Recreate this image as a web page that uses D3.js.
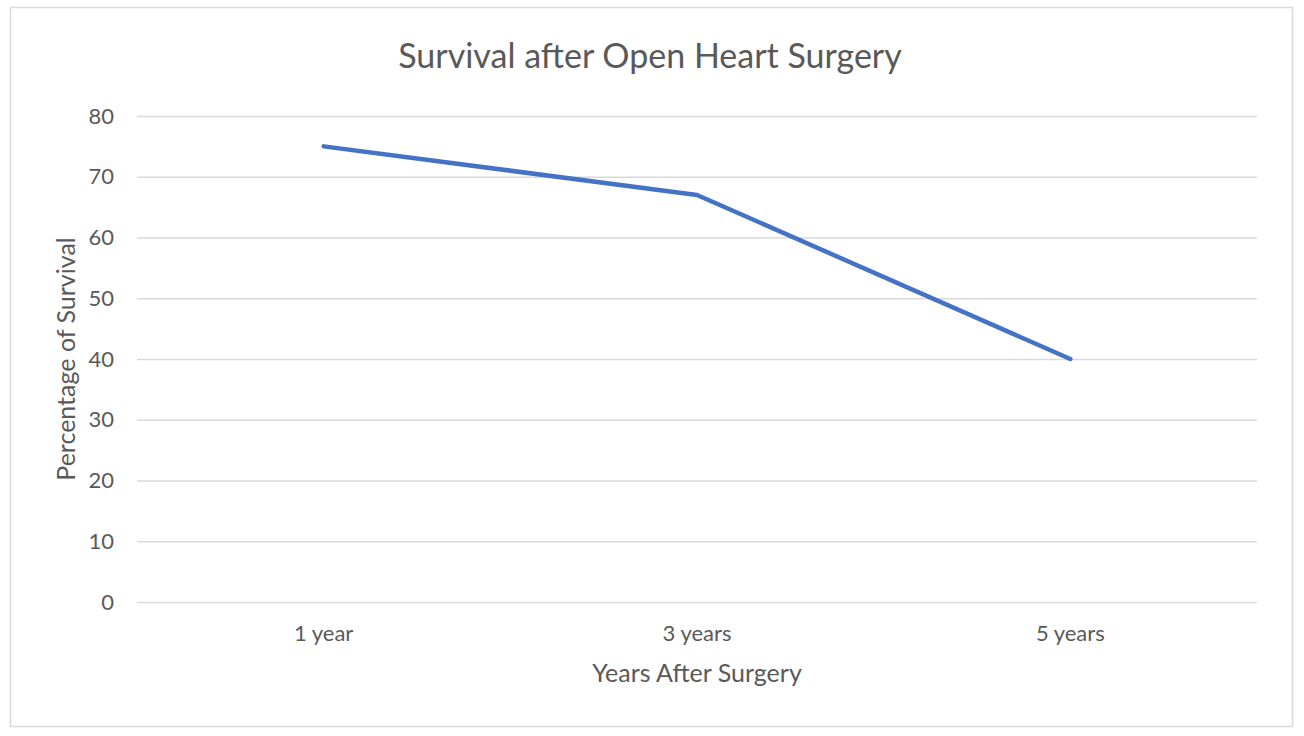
<!DOCTYPE html>
<html><head><meta charset="utf-8">
<script src="https://cdn.jsdelivr.net/npm/d3@7"></script>
<style>body{margin:0;background:#fff}svg{display:block}text{font-family:Lato,"Open Sans",sans-serif;fill:#595959}</style>
</head><body><svg id="c" width="1304" height="736"></svg>
<script>
const categories = ["1 year", "3 years", "5 years"];
const survival = [75, 67, 40];
const yTicks = [0, 10, 20, 30, 40, 50, 60, 70, 80];
const title = "Survival after Open Heart Surgery";
const xTitle = "Years After Surgery";
const yTitle = "Percentage of Survival";

const svg = d3.select("#c");
svg.append("rect").attr("x", 10.5).attr("y", 7.5).attr("width", 1282).attr("height", 719)
  .attr("fill", "#fff").attr("stroke", "#d9d9d9").attr("stroke-width", 1.5);

const x = d3.scaleBand().domain(categories).range([137, 1257]);
const y = d3.scaleLinear().domain([0, 80]).range([602, 116]);

svg.append("g").selectAll("line").data(yTicks).join("line")
  .attr("x1", 137).attr("x2", 1257)
  .attr("y1", d => y(d) + 0.5).attr("y2", d => y(d) + 0.5)
  .attr("stroke", "#d9d9d9").attr("stroke-width", 1.5);

svg.append("g").selectAll("text").data(yTicks).join("text")
  .attr("x", 114).attr("y", d => y(d)).attr("dy", "0.35em")
  .attr("text-anchor", "end").attr("font-size", 22).text(d => d);

svg.append("g").selectAll("text").data(categories).join("text")
  .attr("x", d => x(d) + x.bandwidth() / 2).attr("y", 633).attr("dy", "0.35em")
  .attr("text-anchor", "middle").attr("font-size", 22).text(d => d);

const line = d3.line().x((d, i) => x(categories[i]) + x.bandwidth() / 2).y(d => y(d));
svg.append("path").datum(survival).attr("d", line)
  .attr("fill", "none").attr("stroke", "#4472c4").attr("stroke-width", 4.5)
  .attr("stroke-linecap", "round").attr("stroke-linejoin", "round");

svg.append("text").attr("x", 650).attr("y", 56).attr("dy", "0.35em")
  .attr("text-anchor", "middle").attr("font-size", 34).text(title);
svg.append("text").attr("x", 697).attr("y", 673).attr("dy", "0.35em")
  .attr("text-anchor", "middle").attr("font-size", 25).text(xTitle);
svg.append("text").attr("transform", "translate(66,359) rotate(-90)").attr("dy", "0.35em")
  .attr("text-anchor", "middle").attr("font-size", 25).text(yTitle);
</script></body></html>
